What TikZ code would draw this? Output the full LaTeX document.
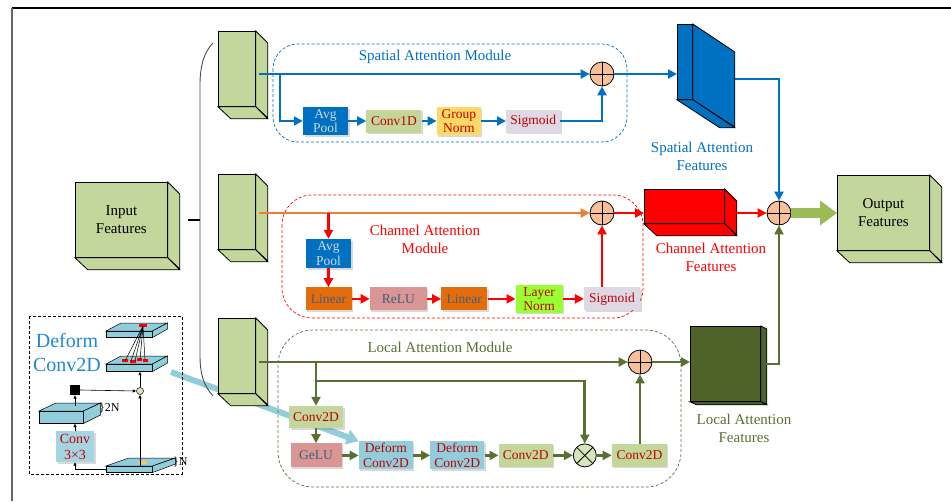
\documentclass[tikz,border=0pt]{standalone}
\usepackage{fontspec}
\setmainfont{Liberation Serif}
\usetikzlibrary{arrows.meta, positioning, shadows, calc}
\definecolor{cGreen}{HTML}{C3D69B}
\definecolor{cBlue}{HTML}{0070C0}
\definecolor{cRed}{HTML}{FF0000}
\definecolor{cOrange}{HTML}{ED7D31}
\definecolor{cLoc}{HTML}{5A7032}
\definecolor{cOliveF}{HTML}{4F6228}
\definecolor{cSum}{HTML}{F7C09A}
\definecolor{cMul}{HTML}{D7E4BD}
\definecolor{cPale}{HTML}{CFD8E6}
\definecolor{cBoxRed}{HTML}{C00000}
\definecolor{cSlate}{HTML}{3F5F7F}
\definecolor{cYellow}{HTML}{FFD966}
\definecolor{cLav}{HTML}{DFD9E6}
\definecolor{cCyan}{HTML}{92CDDC}
\definecolor{cCyanL}{HTML}{A5D5E2}
\definecolor{cLime}{HTML}{99FF33}
\definecolor{cLinO}{HTML}{E46C0A}
\definecolor{cPink}{HTML}{D99694}
\definecolor{cArrowG}{HTML}{9BBB59}
\definecolor{cDeform}{HTML}{1F88D0}
\newcommand{\lblfont}{\fontsize{15}{18}\selectfont}
\newcommand{\boxfont}{\fontsize{13.5}{14.5}\selectfont}
% 3D block: name, left, top, width, height, depth x, depth y, colour
\newcommand{\cube}[8]{%
  \node[draw, line width=0.8pt, fill=#8, anchor=north west, minimum width=#4pt, minimum height=#5pt, inner sep=0] (#1) at (#2,#3) {};
  \draw[line width=0.8pt, fill=#8] (#1.north east) -- ++(#6,#7) -- ++(0,#5) -- (#1.south east) -- cycle;
  \draw[line width=0.8pt, fill=#8] (#1.south west) -- (#1.south east) -- ++(#6,#7) -- ++(-#4,0) -- cycle;}
% flat slab of the inset: name, left, top, width, height, depth x, depth y
\newcommand{\slab}[7]{%
  \node[draw, line width=0.5pt, fill=cCyan, anchor=north west, minimum width=#4pt, minimum height=#5pt, inner sep=0] (#1) at (#2,#3) {};
  \draw[line width=0.5pt, fill=cCyan] (#1.north west) -- ++(#6,-#7) -- ++(#4,0) -- (#1.north east) -- cycle;
  \draw[line width=0.5pt, fill=cCyan] (#1.north east) -- ++(#6,-#7) -- ++(0,#5) -- (#1.south east) -- cycle;}
\pgfdeclarelayer{bg}
\pgfsetlayers{bg,main}

\begin{document}
\begin{tikzpicture}[x=1pt, y=-1pt,
  lbl/.style={align=center, font=\lblfont, inner sep=0pt},
  blk/.style={fill=#1, inner sep=0pt, align=center, font=\boxfont, drop shadow={shadow xshift=1.5pt, shadow yshift=-1.5pt, opacity=.3}},
  sumc/.style={circle, draw, line width=0.8pt, fill=cSum, minimum size=24pt, inner sep=0pt,
    path picture={\draw[line width=0.8pt] (path picture bounding box.north) -- (path picture bounding box.south) (path picture bounding box.west) -- (path picture bounding box.east);}},
  mulc/.style={circle, draw, line width=0.8pt, fill=cMul, minimum size=23pt, inner sep=0pt,
    path picture={\draw[line width=0.8pt] (path picture bounding box.north west) -- (path picture bounding box.south east) (path picture bounding box.north east) -- (path picture bounding box.south west);}},
  arrw/.style={draw=#1, line width=2.8pt, -{Triangle[length=9pt,width=9pt]}},
  modframe/.style={draw=#1, dash pattern=on 3pt off 2pt, line width=0.7pt},
  tarr/.style={-{Latex[length=3.5pt,width=3.5pt]}, line width=0.6pt}]
\useasboundingbox (0,0) rectangle (951,501);
\draw[line width=1.2pt] (12,8) -- (951,8);
\draw[line width=1.2pt, black!60] (12,8) -- (12,501);

% module frames
\draw[modframe=cBlue, rounded corners=25pt] (273,44) rectangle (627,142);
\draw[modframe=cRed, rounded corners=30pt] (282,195) rectangle (643,318);
\draw[modframe=cLoc, rounded corners=35pt] (278,330) rectangle (681,487);

% blocks
\cube{inF}{75}{182}{92}{75}{12}{12}{cGreen}
\cube{bS}{218}{31}{37}{75}{12}{12}{cGreen}
\cube{bC}{218}{174}{37}{75}{12}{12}{cGreen}
\cube{bL}{218}{318}{37}{75}{12}{12}{cGreen}
\cube{cf}{644}{189}{80}{34}{12}{12}{cRed}
\cube{lf}{690}{326}{70}{75}{6}{3}{cOliveF}
\cube{outF}{837}{175}{92}{75}{12}{12}{cGreen}
\node[draw, line width=0.8pt, fill=cBlue, anchor=north west, minimum width=15pt, minimum height=75pt, inner sep=0] (sf) at (677,24) {};
\draw[line width=0.8pt, fill=cBlue] (sf.north east) -- ++(42,28) -- ++(0,75) -- (sf.south east) -- cycle;
\draw[line width=0.8pt, fill=cBlue] (sf.south west) -- (sf.south east) -- ++(42,28) -- ++(-15,0) -- cycle;
\node[lbl] (inT) at (inF) {Input\\Features};
\node[lbl] (outT) at (outF) {Output\\Features};
\draw[black!70, line width=0.9pt] (213,43) .. controls (204,52) and (200,66) .. (200,85) -- (200,355) .. controls (200,375) and (204,386) .. (213,396);
\draw[line width=1.2pt] (188,220) -- (200,220);

% spatial attention module
\node[lbl, text=cBlue] (tS) at (435,57) {Spatial Attention Module};
\node[blk=cBlue, text=cPale, minimum width=45pt, minimum height=28pt] (avgS) at (325.5,121) {Avg\\Pool};
\node[blk=cGreen, text=cBoxRed, minimum width=55pt, minimum height=23pt, right=18pt of avgS] (convS) {Conv1D};
\node[blk=cYellow, text=cBoxRed, minimum width=44pt, minimum height=28pt, right=15pt of convS] (gnS) {Group\\Norm};
\node[blk=cLav, text=cBoxRed, minimum width=54pt, minimum height=23pt, right=25pt of gnS] (sigS) {Sigmoid};
\node[sumc] (plusS) at (602,74) {};
\coordinate (sOut) at (259,74);
\coordinate (sJ) at (280,74);
\draw[arrw=cBlue] (sOut) -- (plusS.west);
\draw[arrw=cBlue] (sJ) |- (avgS.west);
\draw[arrw=cBlue] (avgS) -- (convS);
\draw[arrw=cBlue] (convS) -- (gnS);
\draw[arrw=cBlue] (gnS) -- (sigS);
\draw[arrw=cBlue] (sigS.east) -| (plusS.south);
\draw[arrw=cBlue] (plusS.east) -- (plusS.east -| sf.west);
\node[lbl, text=cBlue] (fS) at (702,156.5) {Spatial Attention\\Features};

% channel attention module
\node[lbl, text=cRed] (tC) at (425,239.5) {Channel Attention\\Module};
\node[blk=cBlue, text=cPale, minimum width=45pt, minimum height=29pt] (avgC) at (328.5,253.5) {Avg\\Pool};
\node[blk=cLinO, text=cSlate, minimum width=46pt, minimum height=23pt, below=19pt of avgC] (linC1) {Linear};
\node[blk=cPink, text=cSlate, minimum width=57pt, minimum height=23pt, right=18pt of linC1] (reluC) {ReLU};
\node[blk=cLinO, text=cSlate, minimum width=46pt, minimum height=23pt, right=14pt of reluC] (linC2) {Linear};
\node[blk=cLime, text=cBoxRed, minimum width=47pt, minimum height=28pt, right=28pt of linC2] (lnC) {Layer\\Norm};
\node[blk=cLav, text=cBoxRed, minimum width=56pt, minimum height=23pt, right=21pt of lnC] (sigC) {Sigmoid};
\node[sumc] (plusC) at (602,213) {};
\coordinate (cOut) at (259,213);
\coordinate (cJ) at (328.5,213);
\draw[arrw=cOrange] (cOut) -- (plusC.west);
\draw[arrw=cRed] (cJ) -- (avgC.north);
\draw[arrw=cRed] (avgC) -- (linC1);
\draw[arrw=cRed] (linC1) -- (reluC);
\draw[arrw=cRed] (reluC) -- (linC2);
\draw[arrw=cRed] (linC2) -- (lnC);
\draw[arrw=cRed] (lnC) -- (sigC);
\draw[arrw=cRed] (plusC |- sigC.north) -- (plusC.south);
\draw[arrw=cRed] (plusC.east) -- (plusC.east -| cf.west);
\node[lbl, text=cRed] (fC) at (711,257.5) {Channel Attention\\Features};

% local attention module
\node[lbl, text=cLoc] (tL) at (440,347) {Local Attention Module};
\node[blk=cGreen, text=cBoxRed, minimum width=54pt, minimum height=22pt] (convL1) at (316,417) {Conv2D};
\node[blk=cPink, text=cSlate, minimum width=51pt, minimum height=24pt, below=15pt of convL1] (geluL) {GeLU};
\node[blk=cCyan, text=cBoxRed, minimum width=54pt, minimum height=28pt, right=17pt of geluL] (dcL1) {Deform\\Conv2D};
\node[blk=cCyan, text=cBoxRed, minimum width=54pt, minimum height=28pt, right=17pt of dcL1] (dcL2) {Deform\\Conv2D};
\node[blk=cGreen, text=cBoxRed, minimum width=54pt, minimum height=23pt, right=14pt of dcL2] (convL2) {Conv2D};
\node[mulc, right=20pt of convL2] (mulL) {};
\node[blk=cGreen, text=cBoxRed, minimum width=55pt, minimum height=23pt, right=15pt of mulL] (convL3) {Conv2D};
\node[sumc] (plusL) at (640,362) {};
\coordinate (lOut) at (259,362);
\coordinate (lJ) at (316,362);
\coordinate (lJ2) at (316,381);
\draw[arrw=cLoc] (lOut) -- (plusL.west);
\draw[arrw=cLoc] (lJ) -- (convL1.north);
\draw[arrw=cLoc] (lJ2) -| (mulL.north);
\draw[arrw=cLoc] (convL1) -- (geluL);
\draw[arrw=cLoc] (geluL) -- (dcL1);
\draw[arrw=cLoc] (dcL1) -- (dcL2);
\draw[arrw=cLoc] (dcL2) -- (convL2);
\draw[arrw=cLoc] (convL2) -- (mulL);
\draw[arrw=cLoc] (mulL) -- (convL3);
\draw[arrw=cLoc] (plusL |- convL3.north) -- (plusL.south);
\draw[arrw=cLoc] (plusL.east) -- (plusL.east -| lf.west);
\node[lbl, text=cLoc] (fL) at (744,428.5) {Local Attention\\Features};

% fusion
\node[sumc] (plusF) at (779,213) {};
\coordinate (sfOut) at (735,79);
\coordinate (cfOut) at (737,213);
\coordinate (lfOut) at (766,364);
\draw[arrw=cBlue] (sfOut) -| (plusF.north);
\draw[arrw=cRed] (cfOut) -- (plusF.west);
\draw[arrw=cLoc] (lfOut) -| (plusF.south);
\draw[draw=cArrowG, line width=10pt, -{Triangle[length=17pt,width=24pt]}] (plusF.east) -- (plusF.east -| outF.west);

% deformable convolution inset
\draw[dash pattern=on 3pt off 2pt, line width=0.7pt] (29,316) rectangle (182,474);
\node[font=\fontsize{20}{24}\selectfont, text=cDeform, align=center, inner sep=0] (dfT) at (67,353) {Deform\\Conv2D};
\slab{sA}{106}{331}{46}{6}{15}{8}
\slab{sB}{106}{364}{46}{7}{15}{8}
\slab{sC}{39}{411}{44}{12}{17}{8}
\slab{sD}{106}{466}{46}{6}{23}{8}
\fill[red] (139,324) rectangle (147,327);
\fill[red] (122,359) rectangle (128,362) (130,360) rectangle (136,363) (137,358) rectangle (142,361) (143,359) rectangle (148,362);
\fill[cYellow!80!orange] (139,461) rectangle (147,464);
\draw[line width=0.5pt] (143,326) -- (125,361) (143,326) -- (131,361) (143,326) -- (135,361) (143,326) -- (140,360) (143,326) -- (145,360);
\node[blk=cCyanL, text=cBoxRed, font=\fontsize{14}{16}\selectfont, minimum width=38pt, minimum height=31pt] (c33) at (75,446.5) {Conv\\3×3};
\node[fill=black, minimum size=10pt, inner sep=0] (sq) at (75,390) {};
\node[circle, draw, line width=0.5pt, fill=cMul, minimum size=7pt, inner sep=0] (sm) at (140,391) {};
\node[font=\fontsize{12}{13}\selectfont, anchor=west, inner sep=0] (n2N) at (99,408) {\}2N};
\node[font=\fontsize{12}{13}\selectfont, anchor=west, inner sep=0] (nN) at (173,462) {\}N};
\draw[tarr] (sm |- sD.north) -- (sm.south);
\draw[tarr] (sm.north) -- (sm |- sB.south);
\draw[tarr] (sq.east) -- (sm.west);
\draw[tarr] ($(sq |- sC.north)+(0,-5)$) -- (sq.south);
\draw[tarr] (c33.north) -- (c33 |- sC.south);
\draw[tarr] (sD.west) -| (c33.south);
\coordinate (dfOut) at (171,372);
\begin{pgfonlayer}{bg}
\draw[draw=cCyan, line width=6pt, -{Triangle[length=12pt,width=15pt]}] (dfOut) -- (dcL1.north west);
\end{pgfonlayer}
\end{tikzpicture}
\end{document}
